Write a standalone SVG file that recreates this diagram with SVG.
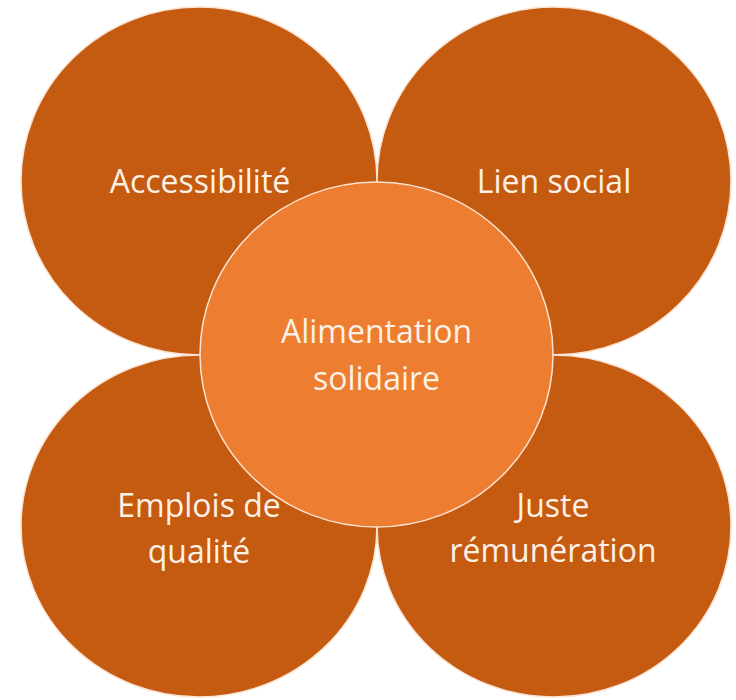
<svg xmlns="http://www.w3.org/2000/svg" width="736" height="700" viewBox="0 0 736 700">
  <style>
    .outer { fill: #C55A11; stroke: #FBE3D2; stroke-width: 1.5; }
    .center { fill: #ED7D31; stroke: #FBE3D2; stroke-width: 1.5; }
    .label { font-family: "Open Sans", "Liberation Sans", sans-serif; font-size: 32px; fill: #FDF1E6; text-anchor: middle; }
  </style>
  <rect width="736" height="700" fill="#FFFFFF"/>
  <g id="connectors"/>
  <g id="node-accessibilite">
    <ellipse class="outer" cx="199" cy="181" rx="178" ry="174"/>
    <text class="label" x="200" y="193">Accessibilité</text>
  </g>
  <g id="node-lien-social">
    <ellipse class="outer" cx="554" cy="181" rx="177" ry="174"/>
    <text class="label" x="554" y="193">Lien social</text>
  </g>
  <g id="node-emplois">
    <ellipse class="outer" cx="199" cy="526" rx="178" ry="171"/>
    <text class="label" x="199" y="517">Emplois de</text>
    <text class="label" x="199" y="563">qualité</text>
  </g>
  <g id="node-remuneration">
    <ellipse class="outer" cx="554" cy="526" rx="177" ry="171"/>
    <text class="label" x="553" y="517">Juste</text>
    <text class="label" x="553" y="562">rémunération</text>
  </g>
  <g id="node-alimentation">
    <ellipse class="center" cx="376.5" cy="354.5" rx="176.5" ry="172.5"/>
    <text class="label" x="376.5" y="343">Alimentation</text>
    <text class="label" x="376.5" y="390">solidaire</text>
  </g>
</svg>
